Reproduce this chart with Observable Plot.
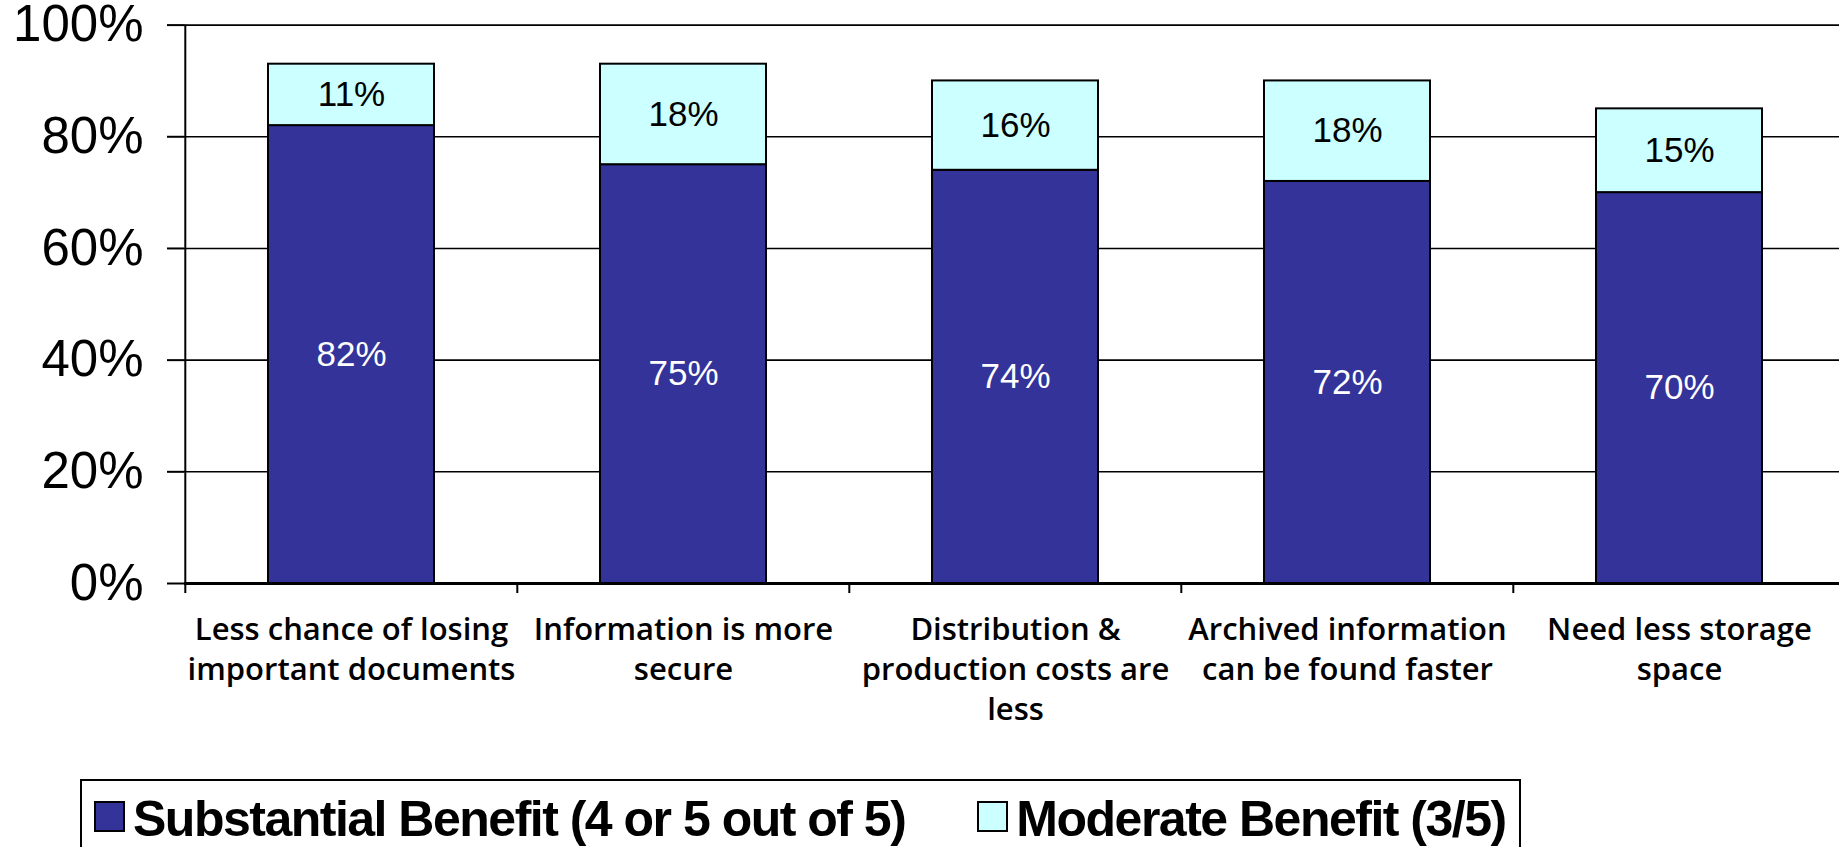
<!DOCTYPE html>
<html>
<head>
<meta charset="utf-8">
<script src="https://cdn.jsdelivr.net/npm/d3@7"></script>
<script src="https://cdn.jsdelivr.net/npm/@observablehq/plot@0.6"></script>
<style>
  html, body { margin: 0; padding: 0; background: #fff; overflow: hidden; }
  #chart { position: absolute; left: 0; top: 0; }
  #legend {
    position: absolute; left: 80px; top: 779px; width: 1441px; height: 80px;
    border: 2px solid #000; box-sizing: border-box; display: flex; align-items: flex-start;
    padding-left: 12px; padding-top: 13px;
    font-family: "Liberation Sans", Arial, sans-serif; font-weight: bold; font-size: 50px;
    letter-spacing: -1.5px; color: #000; line-height: 1;
  }
  .sw { width: 31px; height: 31px; border: 2px solid #000; box-sizing: border-box; margin-right: 8px; margin-top: 7px; flex: none; }
  .item { display: flex; align-items: flex-start; white-space: nowrap; }
</style>
</head>
<body>
<div id="chart"></div>
<div id="legend"></div>
<script>
const categories = [
  "Less chance of losing important documents",
  "Information is more secure",
  "Distribution & production costs are less",
  "Archived information can be found faster",
  "Need less storage space"
];
const tickLabels = [
  "Less chance of losing\nimportant documents",
  "Information is more\nsecure",
  "Distribution &\nproduction costs are\nless",
  "Archived information\ncan be found faster",
  "Need less storage\nspace"
];
const substantial = [0.82, 0.75, 0.74, 0.72, 0.70];
const moderate = [0.11, 0.18, 0.16, 0.18, 0.15];
const seriesNames = ["Substantial Benefit (4 or 5 out of 5)", "Moderate Benefit (3/5)"];
const seriesColors = ["#333399", "#CCFFFF"];
const labelColors = ["#ffffff", "#000000"];
const yTicks = [0, 0.2, 0.4, 0.6, 0.8, 1];

const rows = categories.flatMap((c, i) => [
  {category: c, series: seriesNames[0], value: substantial[i], mid: substantial[i] / 2, k: 0},
  {category: c, series: seriesNames[1], value: moderate[i], mid: substantial[i] + moderate[i] / 2, k: 1}
]);

const W = 1839, H = 779;
const xRange = [184, 1846];
const step = (xRange[1] - xRange[0]) / categories.length;
const fmt = d3.format(".0%");

const chart = Plot.plot({
  width: W,
  height: H,
  marginLeft: 184,
  marginRight: 0,
  marginTop: 24.6,
  marginBottom: 196,
  style: {background: "#fff", fontFamily: "Liberation Sans, Arial, sans-serif"},
  x: {type: "band", domain: categories, range: xRange, paddingInner: 0.5, paddingOuter: 0.25, label: null},
  y: {domain: [0, 1], label: null},
  color: {domain: seriesNames, range: seriesColors},
  marks: [
    Plot.ruleY(yTicks, {y: d => d, stroke: "#000", strokeWidth: 1.6}),
    Plot.barY(rows, {x: "category", y: "value", fill: "series", stroke: "#000", strokeWidth: 2}),
    Plot.text(rows, {
      x: "category", y: "mid", text: d => fmt(d.value),
      fill: d => labelColors[d.k], fontSize: 35, fontFamily: "Liberation Sans, Arial, sans-serif"
    }),
    Plot.ruleX([categories[0]], {x: d => d, dx: -step / 2, y1: 0, y2: 1, stroke: "#000", strokeWidth: 2}),
    Plot.ruleY([0], {stroke: "#000", strokeWidth: 3}),
    Plot.axisY({
      ticks: yTicks, tickFormat: fmt, tickSize: 17, tickPadding: 24, label: null,
      fontSize: 51, fontFamily: "Liberation Sans, Arial, sans-serif", fill: "#000",
      stroke: "#000", strokeWidth: 2
    }),
    Plot.axisX({
      tickSize: 10, tickPadding: 0, tickFormat: () => "", dx: -step / 2, label: null,
      stroke: "#000", strokeWidth: 2
    }),
    Plot.axisX({
      tickSize: 0, tickPadding: 28, label: null,
      tickFormat: d => tickLabels[categories.indexOf(d)],
      fontSize: 31, fontWeight: 600, lineHeight: 1.29,
      fontFamily: "Open Sans, Liberation Sans, sans-serif", fill: "#000"
    })
  ]
});
document.getElementById("chart").appendChild(chart);

const legend = document.getElementById("legend");
seriesNames.forEach((name, i) => {
  const item = document.createElement("div");
  item.className = "item";
  if (i > 0) item.style.marginLeft = "72px";
  const sw = document.createElement("div");
  sw.className = "sw";
  sw.style.background = seriesColors[i];
  const t = document.createElement("span");
  t.textContent = name;
  item.appendChild(sw);
  item.appendChild(t);
  legend.appendChild(item);
});
</script>
</body>
</html>
